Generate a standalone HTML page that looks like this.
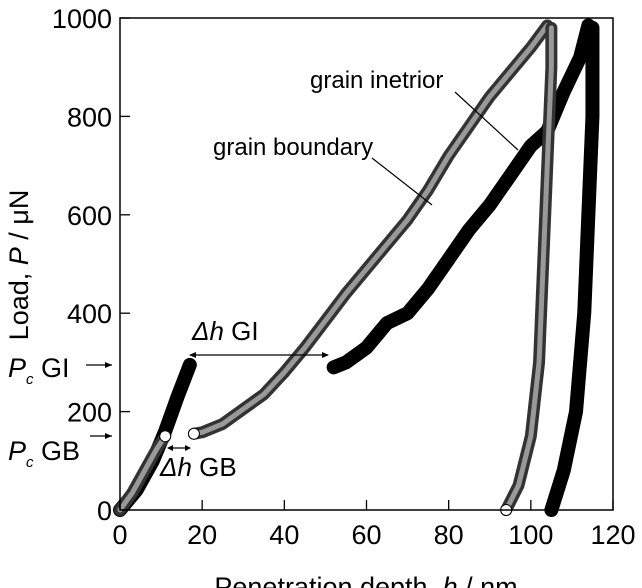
<!DOCTYPE html>
<html><head><meta charset="utf-8"><style>
body{margin:0;background:#fff}
svg{display:block;font-family:"Liberation Sans",Arial,sans-serif}
</style></head><body>
<svg width="642" height="588" viewBox="0 0 642 588">
<g id="plot"></g>
<rect x="120" y="18" width="493" height="492" fill="none" stroke="#000" stroke-width="1.5"/>
<g id="ticks"></g>
<text x="28" y="265" font-size="27" text-anchor="middle" transform="rotate(-90 28 265)">Load, <tspan font-style="italic">P</tspan> / μN</text>
<text x="366" y="596" font-size="27" text-anchor="middle">Penetration depth, <tspan font-style="italic">h</tspan> / nm</text>
<text x="310" y="88" font-size="24">grain inetrior</text>
<line x1="455" y1="92" x2="518" y2="150" stroke="#000" stroke-width="1.2"/>
<text x="213" y="155" font-size="24">grain boundary</text>
<line x1="372" y1="158" x2="432" y2="205" stroke="#000" stroke-width="1.2"/>
<text x="8" y="377" font-size="27"><tspan font-style="italic">P</tspan><tspan font-size="15" dy="7" font-style="italic">c</tspan><tspan dy="-7"> GI</tspan></text>
<line x1="86" y1="365" x2="112" y2="365" stroke="#000" stroke-width="1.2"/>
<path d="M112 365 l-7 -3 v6z"/>
<text x="8" y="460" font-size="27"><tspan font-style="italic">P</tspan><tspan font-size="15" dy="7" font-style="italic">c</tspan><tspan dy="-7"> GB</tspan></text>
<line x1="90" y1="436" x2="112" y2="436" stroke="#000" stroke-width="1.2"/>
<path d="M112 436 l-7 -3 v6z"/>
<text x="192" y="340" font-size="26"><tspan font-style="italic">Δh</tspan> GI</text>
<line x1="190" y1="355" x2="328" y2="355" stroke="#000" stroke-width="1.2"/>
<path d="M189 355 l7 -3 v6z M329 355 l-7 -3 v6z"/>
<text x="160" y="476" font-size="26"><tspan font-style="italic">Δh</tspan> GB</text>
<line x1="168" y1="448" x2="190" y2="448" stroke="#000" stroke-width="1.2"/>
<path d="M167 448 l6 -3 v6z M191 448 l-6 -3 v6z"/>
</svg>
<script>
const xTicks=[0,20,40,60,80,100,120];
const yTicks=[0,200,400,600,800,1000];
const gbLoadH1=[0,3,6,9,11];
const gbLoadP1=[0,35,80,125,150];
const gbLoadH2=[18,20,25,30,35,40,45,50,55,60,65,70,75,80,85,90,95,100,104];
const gbLoadP2=[155,158,175,205,235,280,330,385,440,490,540,590,650,720,780,840,890,940,985];
const gbUnloadH=[105,105,104,103,102,100,97,94];
const gbUnloadP=[980,900,700,500,300,150,50,0];
const giLoadH1=[0,4,8,11,14,17];
const giLoadP1=[0,40,100,160,230,295];
const giLoadH2=[52,55,60,65,70,75,80,85,90,95,100,104,108,112,114];
const giLoadP2=[290,300,330,380,400,450,510,570,620,680,740,770,850,920,985];
const giUnloadH=[115,115,114,113,111,108,105];
const giUnloadP=[980,800,600,400,200,80,0];
const X=h=>120+h*493/120, Y=p=>510-p*492/1000;
const NS="http://www.w3.org/2000/svg";
const plot=document.getElementById('plot'), tk=document.getElementById('ticks');
function line(hs,ps,name,stroke,w){
 const el=document.createElementNS(NS,'polyline');
 el.setAttribute('points',hs.map((h,i)=>X(h)+','+Y(ps[i])).join(' '));
 el.setAttribute('fill','none');el.setAttribute('stroke',stroke);el.setAttribute('stroke-width',w);
 el.setAttribute('stroke-linejoin','round');el.setAttribute('stroke-linecap','round');
 
 
 plot.appendChild(el);
}
[[giLoadH1,giLoadP1,'gi-loading-1'],[giLoadH2,giLoadP2,'gi-loading-2'],[giUnloadH,giUnloadP,'gi-unloading']].forEach(s=>line(s[0],s[1],s[2],'#000',14));
[[gbLoadH1,gbLoadP1,'gb-loading-1'],[gbLoadH2,gbLoadP2,'gb-loading-2'],[gbUnloadH,gbUnloadP,'gb-unloading']].forEach(s=>{line(s[0],s[1],s[2],'#333',12);line(s[0],s[1],s[2]+'-inner','#999',5);});
function c(h,p,name,fill){const e=document.createElementNS(NS,'circle');e.setAttribute('cx',X(h));e.setAttribute('cy',Y(p));e.setAttribute('r',5.5);e.setAttribute('fill',fill);e.setAttribute('stroke','#000');
 
 
 plot.appendChild(e);}
c(gbLoadH1[gbLoadH1.length-1],gbLoadP1[gbLoadP1.length-1],'gb-pop-in-point','#fff');
c(gbLoadH2[0],gbLoadP2[0],'gb-pop-in-end','#fff');
c(gbUnloadH[gbUnloadH.length-1],0,'gb-end-point','#fff');
xTicks.forEach(v=>{const l=document.createElementNS(NS,'line');l.setAttribute('x1',X(v));l.setAttribute('x2',X(v));l.setAttribute('y1',510);l.setAttribute('y2',500);l.setAttribute('stroke','#000');l.setAttribute('stroke-width',1.3);
 
 
 tk.appendChild(l);
 const t=document.createElementNS(NS,'text');t.setAttribute('x',X(v));t.setAttribute('y',544);t.setAttribute('font-size',27);t.setAttribute('text-anchor','middle');t.textContent=v;
 
 
 tk.appendChild(t);});
yTicks.forEach(v=>{const l=document.createElementNS(NS,'line');l.setAttribute('x1',120);l.setAttribute('x2',130);l.setAttribute('y1',Y(v));l.setAttribute('y2',Y(v));l.setAttribute('stroke','#000');l.setAttribute('stroke-width',1.3);
 
 
 tk.appendChild(l);
 const t=document.createElementNS(NS,'text');t.setAttribute('x',112);t.setAttribute('y',Y(v)+10);t.setAttribute('font-size',27);t.setAttribute('text-anchor','end');t.textContent=v;
 
 
 tk.appendChild(t);});
</script>
</body></html>
